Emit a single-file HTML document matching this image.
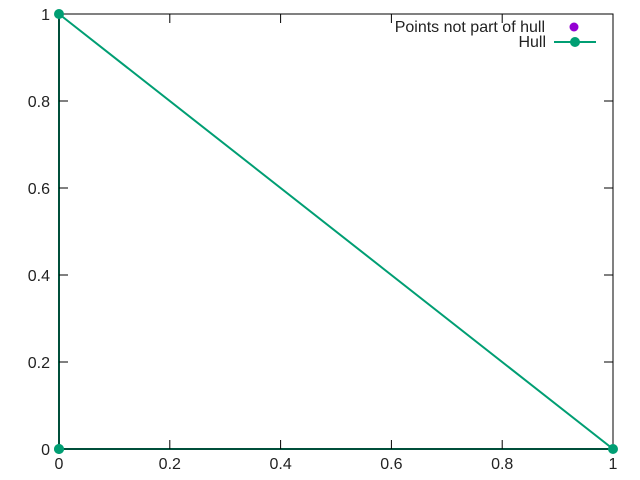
<!DOCTYPE html>
<html><head><meta charset="utf-8"><style>
body{margin:0;background:#fff}
svg{display:block;font-family:"Liberation Sans",sans-serif;font-size:16px}
</style></head><body>
<svg width="640" height="480">
<g id="series"></g>
<g id="axes"></g>
<g>
<text x="545" y="32" text-anchor="end" fill="#222">Points not part of hull</text>
<circle cx="574" cy="27" r="4.5" fill="#9400d3"/>
<text x="546" y="47" text-anchor="end" fill="#222">Hull</text>
<line x1="554" y1="42" x2="596" y2="42" stroke="#009e73" stroke-width="2"/>
<circle cx="575" cy="42" r="5" fill="#009e73"/>
</g>
</svg>
<script>
const xTicks=[0,0.2,0.4,0.6,0.8,1];
const yTicks=[0,0.2,0.4,0.6,0.8,1];
const xTickLabels=["0","0.2","0.4","0.6","0.8","1"];
const yTickLabels=["0","0.2","0.4","0.6","0.8","1"];
const hullX=[0,1,0,0];
const hullY=[0,0,1,0];
const otherX=[];
const otherY=[];
const L=59,R=613,T=14,B=449;
const sx=v=>L+v*(R-L), sy=v=>B-v*(B-T);
const NS="http://www.w3.org/2000/svg";
const ax=document.getElementById('axes'), se=document.getElementById('series');
function mk(tag,attrs,parent){const e=document.createElementNS(NS,tag);for(const k in attrs)e.setAttribute(k,attrs[k]);parent.appendChild(e);return e;}
const pts=hullX.map((v,i)=>sx(v)+','+sy(hullY[i])).join(' ');
const pl=mk('polyline',{points:pts,fill:'none',stroke:'#009e73','stroke-width':2},se);


const fr=mk('rect',{x:L,y:T,width:R-L,height:B-T,fill:'none',stroke:'#000','stroke-width':1},ax);


xTicks.forEach((v,i)=>{const x=sx(v);
mk('line',{x1:x,y1:B,x2:x,y2:B-9,stroke:'#000'},ax);
mk('line',{x1:x,y1:T,x2:x,y2:T+9,stroke:'#000'},ax);
const t=mk('text',{x:x,y:469,'text-anchor':'middle',fill:'#222'},ax);t.textContent=xTickLabels[i];

});
yTicks.forEach((v,i)=>{const y=sy(v);
mk('line',{x1:L,y1:y,x2:L+9,y2:y,stroke:'#000'},ax);
mk('line',{x1:R,y1:y,x2:R-9,y2:y,stroke:'#000'},ax);
const t=mk('text',{x:50,y:y+6,'text-anchor':'end',fill:'#222'},ax);t.textContent=yTickLabels[i];

});
hullX.forEach((v,i)=>{const c=mk('circle',{cx:sx(v),cy:sy(hullY[i]),r:5,fill:'#009e73'},ax);

});
otherX.forEach((v,i)=>{const c=mk('circle',{cx:sx(v),cy:sy(otherY[i]),r:4.5,fill:'#9400d3'},ax);

});
</script>
</body></html>
